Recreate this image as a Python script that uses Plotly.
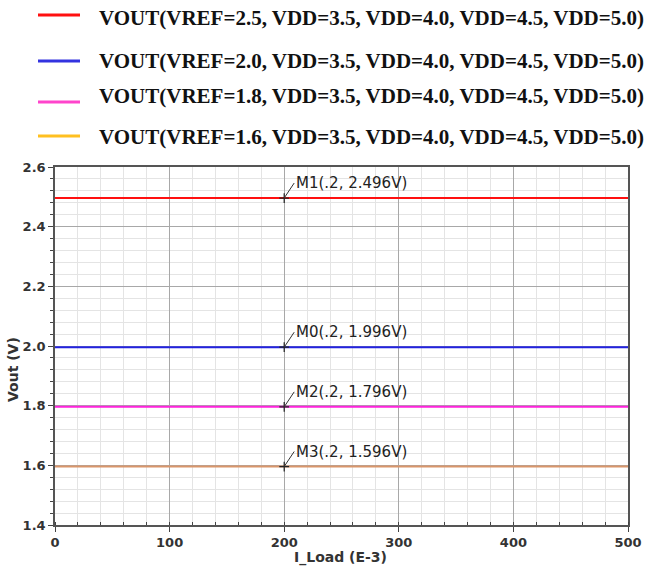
import plotly.graph_objects as go

# ---- data ----
i_load = [0, 500]                       # I_Load (E-3)
vref_levels = [2.5, 2.0, 1.8, 1.6]
vout_values = [2.496, 1.996, 1.796, 1.596]
series_names = [
    "VOUT(VREF=2.5, VDD=3.5, VDD=4.0, VDD=4.5, VDD=5.0)",
    "VOUT(VREF=2.0, VDD=3.5, VDD=4.0, VDD=4.5, VDD=5.0)",
    "VOUT(VREF=1.8, VDD=3.5, VDD=4.0, VDD=4.5, VDD=5.0)",
    "VOUT(VREF=1.6, VDD=3.5, VDD=4.0, VDD=4.5, VDD=5.0)",
]
line_colors = ["#ff1010", "#2222e0", "#ff22dd", "#d9956a"]
legend_colors = ["#ff1010", "#3333e0", "#ff44cc", "#ffc020"]
marker_names = ["M1", "M0", "M2", "M3"]
marker_x = 200
x_ticks = [0, 100, 200, 300, 400, 500]
y_ticks = [1.4, 1.6, 1.8, 2.0, 2.2, 2.4, 2.6]

W, H = 646, 572
ML, MR, MT, MB = 55, 18, 167, 47
PW, PH = W - ML - MR, H - MT - MB

fig = go.Figure()

for name, v, c in zip(series_names, vout_values, line_colors):
    fig.add_trace(go.Scatter(x=i_load, y=[v, v], mode="lines",
                             line=dict(color=c, width=2), name=name,
                             showlegend=False, hoverinfo="skip"))

# marker crosses
fig.add_trace(go.Scatter(x=[marker_x] * len(vout_values), y=vout_values, mode="markers",
                         marker=dict(symbol="cross-thin", size=7,
                                     line=dict(color="#222", width=1.2)),
                         showlegend=False, hoverinfo="skip"))

for mname, v in zip(marker_names, vout_values):
    fig.add_annotation(x=marker_x, y=v, xref="x", yref="y",
                       text=f"{mname}(.2, {v:.3f}V)",
                       showarrow=True, arrowhead=0, arrowwidth=1, arrowcolor="#333",
                       ax=10, ay=-15, xanchor="left", yanchor="middle",
                       font=dict(family="DejaVu Sans", size=15, color="#222"))

# custom legend rows (top of page)
text_y = [18, 61, 96, 137]
line_y = [15, 61, 102, 136]
for name, c, ty, ly in zip(series_names, legend_colors, text_y, line_y):
    fig.add_shape(type="line", xref="paper", yref="paper",
                  x0=(38 - ML) / PW, x1=(80 - ML) / PW,
                  y0=(H - MB - ly) / PH, y1=(H - MB - ly) / PH,
                  line=dict(color=c, width=3))
    fig.add_annotation(xref="paper", yref="paper",
                       x=(97 - ML) / PW, y=(H - MB - ty) / PH,
                       xanchor="left", yanchor="middle", showarrow=False, text=name,
                       font=dict(family="Liberation Serif", size=21, color="#111",
                                 weight="bold"))

# axis titles
fig.add_annotation(xref="paper", yref="paper", x=(340 - ML) / PW, y=(H - MB - 557) / PH,
                   text="I_Load (E-3)", showarrow=False, xanchor="center", yanchor="middle",
                   font=dict(family="DejaVu Sans", size=14, color="#333", weight="bold"))
fig.add_annotation(xref="paper", yref="paper", x=(13 - ML) / PW, y=(H - MB - 370) / PH,
                   text="Vout (V)", showarrow=False, xanchor="center", yanchor="middle",
                   textangle=-90,
                   font=dict(family="DejaVu Sans", size=14, color="#333", weight="bold"))

axis_common = dict(
    showline=True, linecolor="#555", linewidth=1.5, mirror=True,
    showgrid=True, gridcolor="#a8a8a8", gridwidth=1,
    ticks="outside", ticklen=5, tickcolor="#444",
    tickfont=dict(family="DejaVu Sans", size=13, color="#333", weight="bold"),
    zeroline=False, automargin=False,
)

fig.update_xaxes(range=[0, 500], tickvals=x_ticks, ticktext=[str(t) for t in x_ticks],
                 minor=dict(dtick=20, showgrid=True, gridcolor="#e4e4e4",
                            ticks="inside", ticklen=3, tickcolor="#444"),
                 **axis_common)
fig.update_yaxes(range=[1.4, 2.6], tickvals=y_ticks, ticktext=[f"{t:.1f}" for t in y_ticks],
                 minor=dict(dtick=0.04, tick0=1.4, showgrid=True, gridcolor="#e4e4e4",
                            ticks="outside", ticklen=3, tickcolor="#444"),
                 **axis_common)

fig.update_layout(width=W, height=H, margin=dict(l=ML, r=MR, t=MT, b=MB),
                  paper_bgcolor="white", plot_bgcolor="white", showlegend=False)

fig.write_html("out.html")
